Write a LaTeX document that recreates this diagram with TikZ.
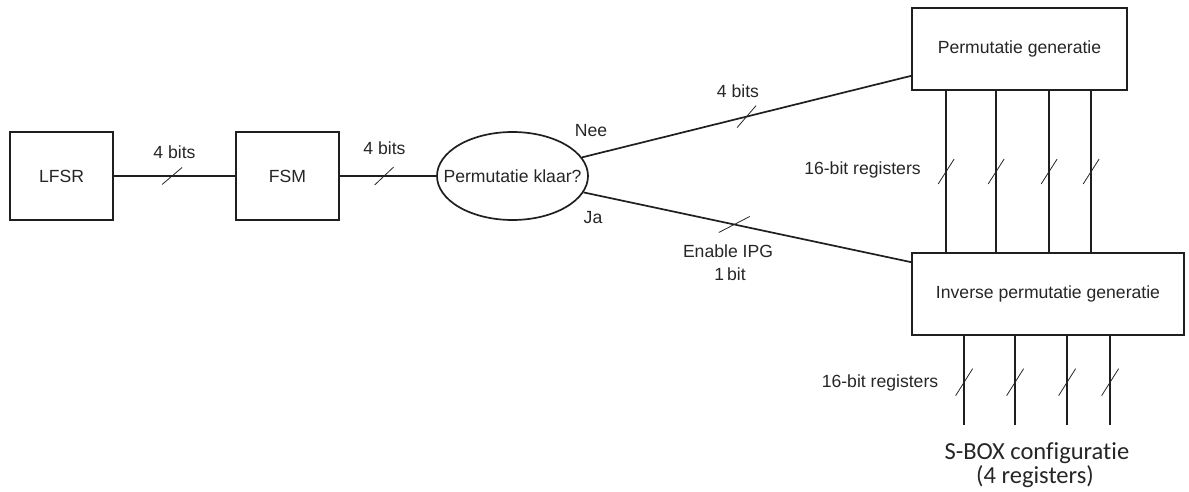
\documentclass[tikz,border=0pt]{standalone}
\usepackage{fontspec}
\setmainfont{Liberation Sans}
\newfontfamily\carlito[Ligatures={NoCommon,NoRequired,NoContextual,NoDiscretionary}]{Carlito}
\usetikzlibrary{shapes.geometric,calc}

\tikzset{
  wire/.style={line width=1.7pt, draw=black!88},
  slashmark/.style={line width=0.8pt, draw=black!85},
  block/.style={draw=black!88, line width=1.7pt, rectangle, inner sep=0pt, fill=white},
  lbl/.style={font=\fontsize{17.6}{20}\selectfont, inner sep=0pt, text=black!85},
  biglbl/.style={font=\carlito\fontsize{24.5}{26}\selectfont, inner sep=0pt, text=black!85, anchor=base},
}

\begin{document}
\begin{tikzpicture}[x=1pt, y=-1pt]
\useasboundingbox (0,0) rectangle (1189,492);

% blocks
\node[block, minimum width=103pt, minimum height=88pt] (lfsr) at (61.5,176) {};
\node[lbl] at (lfsr.center) {LFSR};
\node[block, minimum width=103pt, minimum height=88pt] (fsm) at (287.5,176) {};
\node[lbl] at (fsm.center) {FSM};
\node[block, ellipse, minimum width=151pt, minimum height=88pt] (klaar) at (512.5,176) {};
\node[lbl] at (klaar.center) {Permutatie klaar?};
\node[block, minimum width=215pt, minimum height=82pt] (pg) at (1019.5,49) {};
\node[lbl] at (pg.center) {Permutatie generatie};
\node[block, minimum width=272pt, minimum height=82pt] (ipg) at (1048,294) {};
\node[lbl] at (ipg.center) {Inverse permutatie generatie};

% main data path
\draw[wire] (lfsr.east) -- coordinate[pos=.48] (s1) (fsm.west);
\draw[wire] (fsm.east) -- coordinate[pos=.46] (s2) (klaar.west);
\draw[wire] (klaar.15) -- coordinate[pos=.5] (s3) ([yshift=15pt]pg.south west);
\draw[wire] (klaar.-13) -- coordinate[pos=.46] (s4) ([yshift=-10pt]ipg.north west);

\draw[slashmark] ($(s1)+(-10,8.5)$) -- ($(s1)+(10,-8.5)$);
\draw[slashmark] ($(s2)+(-9.5,9)$) -- ($(s2)+(9.5,-9)$);
\draw[slashmark] ($(s3)+(-9.5,11)$) -- ($(s3)+(9.5,-11)$);
\draw[slashmark] ($(s4)+(-15.5,8)$) -- ($(s4)+(15.5,-8)$);

% registers between the two generators
\foreach \dx [count=\i] in {35,85,138,180}{
  \draw[wire] ($(pg.south west)+(\dx,0)$) -- coordinate[pos=.5] (r\i) ($(ipg.north west)+(\dx,0)$);
  \draw[slashmark] ($(r\i)+(-8,12.5)$) -- ($(r\i)+(8,-12.5)$);
}

% registers towards the S-box configuration
\foreach \dx [count=\i] in {53,104,156,199}{
  \coordinate (o\i) at ($(ipg.south west)+(\dx,89)$);
  \draw[wire] ($(ipg.south west)+(\dx,0)$) -- coordinate[pos=.52] (q\i) (o\i);
  \draw[slashmark] ($(q\i)+(-8.5,13.5)$) -- ($(q\i)+(8.5,-13.5)$);
}

% labels
\node[lbl] at (174.5,152) {4 bits};
\node[lbl] at (384.5,148) {4 bits};
\node[lbl] at (591,131) {Nee};
\node[lbl] at (593,218) {Ja};
\node[lbl] at (738,91) {4 bits};
\node[lbl] at (728,251.5) {Enable IPG};
\node[lbl] at (730,274) {1\,bit};
\node[lbl] at (862.5,170) {16-bit registers};
\node[lbl] at (880,383) {16-bit registers};
\node[biglbl] (sbox) at (1037,459) {S-BOX configuratie};
\node[biglbl] (sboxn) at (1035,483) {(4 registers)};
\end{tikzpicture}
\end{document}
